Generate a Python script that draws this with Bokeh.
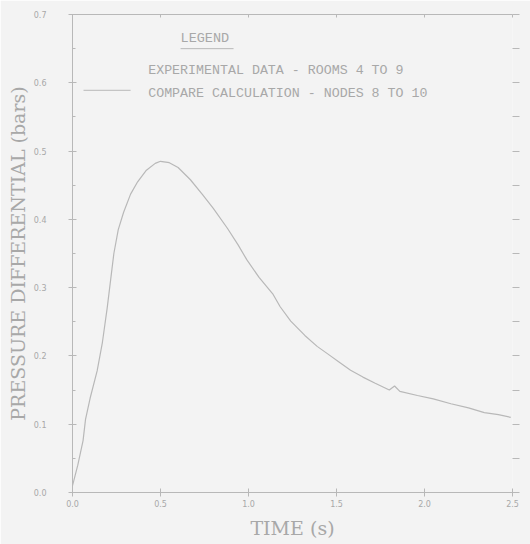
from bokeh.plotting import figure
from bokeh.models import (LinearAxis, FixedTicker, Label, Range1d, CustomJSTickFormatter,
                          CustomLabelingPolicy)
from bokeh.embed import file_html
from bokeh.resources import INLINE

# data
time_s = [0.0, 0.03, 0.06, 0.074, 0.10, 0.14, 0.17, 0.197, 0.235, 0.26,
          0.29, 0.33, 0.37, 0.42, 0.47, 0.50, 0.55, 0.60, 0.67, 0.74,
          0.80, 0.88, 0.94, 0.99, 1.06, 1.14, 1.18, 1.24, 1.32, 1.39,
          1.45, 1.52, 1.58, 1.65, 1.72, 1.80, 1.83, 1.86, 1.96, 2.05,
          2.15, 2.25, 2.34, 2.42, 2.49]
pressure = [0.01, 0.04, 0.076, 0.107, 0.138, 0.178, 0.22, 0.27, 0.35, 0.385,
            0.41, 0.437, 0.455, 0.472, 0.482, 0.485, 0.483, 0.476, 0.458, 0.436,
            0.416, 0.387, 0.363, 0.341, 0.315, 0.29, 0.272, 0.251, 0.23, 0.214,
            0.203, 0.19, 0.179, 0.169, 0.16, 0.150, 0.156, 0.148, 0.142, 0.137,
            0.130, 0.124, 0.117, 0.114, 0.110]
x_ticks = [0.0, 0.5, 1.0, 1.5, 2.0, 2.5]
y_ticks = [0.0, 0.1, 0.2, 0.3, 0.4, 0.5, 0.6, 0.7]
y_minor = [0.05, 0.15, 0.25, 0.35, 0.45, 0.55, 0.65]
legend_title = "LEGEND"
legend_exp = "EXPERIMENTAL DATA - ROOMS 4 TO 9"
legend_calc = "COMPARE CALCULATION - NODES 8 TO 10"

BG = "#f3f3f3"
TXT = "#a8a8a8"
LN = "#b8b8b8"

p = figure(width=530, height=544, output_backend="svg", toolbar_location=None,
           x_range=Range1d(0, 2.5), y_range=Range1d(0, 0.7),
           min_border_left=72, min_border_right=18, min_border_top=14, min_border_bottom=52,
           background_fill_color=BG, border_fill_color=BG)
p.outline_line_color = None
p.grid.visible = False

for ax in [p.xaxis[0], p.yaxis[0]]:
    ax.axis_line_color = LN
    ax.major_tick_line_color = LN
    ax.minor_tick_line_color = LN
    ax.major_tick_in = 4
    ax.major_tick_out = 4
    ax.minor_tick_in = 3
    ax.minor_tick_out = 0
    ax.major_label_text_color = TXT
    ax.major_label_text_font = "DejaVu Sans"
    ax.major_label_text_font_size = "8px"
    ax.axis_label_text_color = TXT
    ax.axis_label_text_font = "DejaVu Serif"
    ax.axis_label_text_font_style = "normal"
    ax.axis_label_text_font_size = "19px"

p.xaxis[0].ticker = FixedTicker(ticks=x_ticks)
p.yaxis[0].ticker = FixedTicker(ticks=y_ticks, minor_ticks=y_minor)
p.xaxis[0].formatter = CustomJSTickFormatter(code="return tick.toFixed(1);")
p.yaxis[0].formatter = CustomJSTickFormatter(code="return tick.toFixed(1);")
p.xaxis[0].axis_label = "TIME (s)"
p.yaxis[0].axis_label = "PRESSURE DIFFERENTIAL (bars)"
p.xaxis[0].major_label_standoff = 3
p.yaxis[0].major_label_standoff = 22
p.yaxis[0].axis_label_standoff = 2
p.xaxis[0].axis_label_standoff = 7

no_labels = CustomLabelingPolicy(code="""
for (let i = 0; i < indices.size; i++) { indices.unset(i) }
return indices
""")

# top border with ticks
top = LinearAxis(ticker=FixedTicker(ticks=x_ticks), major_label_policy=no_labels,
                 major_label_text_font_size="1px", major_label_standoff=0,
                 axis_line_color=LN, major_tick_line_color=LN, major_tick_in=3,
                 major_tick_out=0)
p.add_layout(top, "above")
# right side ticks only
right = LinearAxis(ticker=FixedTicker(ticks=y_ticks, minor_ticks=y_minor),
                   major_label_policy=no_labels,
                   major_label_text_font_size="1px", major_label_standoff=0,
                   axis_line_color=None, major_tick_line_color=LN, minor_tick_line_color=LN,
                   major_tick_in=0, major_tick_out=7, minor_tick_in=0, minor_tick_out=7)
p.add_layout(right, "right")

p.line(time_s, pressure, line_color=LN, line_width=1.2)

# legend block
p.add_layout(Label(x=0.614, y=0.665, text=legend_title, text_font="Liberation Mono",
                   text_font_size="13.5px", text_color=TXT, text_baseline="middle"))
p.line([0.614, 0.915], [0.65, 0.65], line_color=LN, line_width=1)
p.add_layout(Label(x=0.43, y=0.618, text=legend_exp, text_font="Liberation Mono",
                   text_font_size="13.3px", text_color=TXT, text_baseline="middle"))
p.add_layout(Label(x=0.43, y=0.584, text=legend_calc, text_font="Liberation Mono",
                   text_font_size="13.3px", text_color=TXT, text_baseline="middle"))
p.line([0.0625, 0.33], [0.589, 0.589], line_color=LN, line_width=1)

open("out.html", "w").write(file_html(p, INLINE))
